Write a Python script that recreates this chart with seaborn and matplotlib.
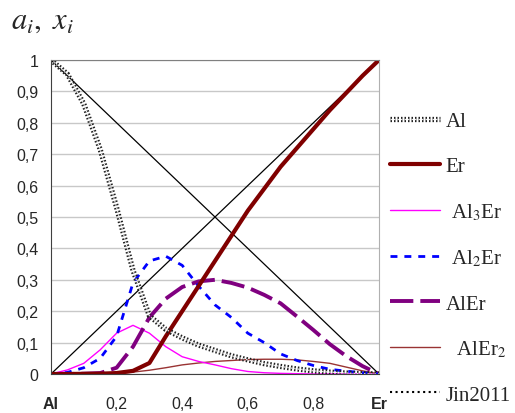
import numpy as np
import pandas as pd
import seaborn as sns
import matplotlib.pyplot as plt
import matplotlib.patheffects as pe
from matplotlib.lines import Line2D

# composition grid, x(Er)
x_er = [0, .05, .1, .15, .2, .25, .3, .35, .4, .45, .5,
        .55, .6, .65, .7, .75, .8, .85, .9, .95, 1.0]

a_al = [1.0, .955, .86, .715, .53, .33, .185, .142, .115, .092, .075,
        .058, .045, .033, .024, .016, .01, .006, .003, .001, 0]
a_er = [0, 0, .0005, .001, .003, .01, .035, .12, .20, .28, .36,
        .44, .52, .59, .66, .72, .78, .84, .895, .95, 1.0]
a_al3er = [0, .013, .034, .077, .13, .155, .13, .087, .055, .04, .029,
           .017, .008, .004, .002, .001, 0, 0, 0, 0, 0]
a_al2er = [0, .005, .02, .05, .12, .29, .36, .375, .346, .28, .22,
           .18, .13, .10, .064, .043, .027, .015, .009, .004, 0]
a_aler = [0, 0, .001, .003, .02, .087, .18, .24, .277, .295, .30,
          .29, .275, .252, .225, .183, .14, .095, .057, .025, 0]
a_aler2 = [0, 0, 0, .001, .002, .006, .012, .02, .029, .035, .04,
           .043, .046, .047, .047, .045, .04, .034, .022, .01, 0]

# mole fractions (straight lines)
x_line = [0, 1]
x_al_frac = [1, 0]
x_er_frac = [0, 1]

xtick_vals = [0, 0.2, 0.4, 0.6, 0.8, 1.0]
xtick_labels = ["Al", "0,2", "0,4", "0,6", "0,8", "Er"]
ytick_vals = [round(v * 0.1, 1) for v in range(11)]
ytick_labels = ["0"] + ["0," + str(i) for i in range(1, 10)] + ["1"]

sns.set_style("white")
plt.rcParams['font.family'] = ['Liberation Sans', 'DejaVu Sans']
plt.rcParams['mathtext.fontset'] = 'stix'

fig = plt.figure(figsize=(5.15, 4.14), dpi=100)
ax = fig.add_axes([51 / 515, 1 - 375 / 414, 328 / 515, 314 / 414])

df = pd.DataFrame({"x": x_er, "Al": a_al, "Er": a_er, "Al3Er": a_al3er,
                   "Al2Er": a_al2er, "AlEr": a_aler, "AlEr2": a_aler2})

sns.lineplot(x=x_line, y=x_al_frac, ax=ax, color="black", lw=0.9)
sns.lineplot(x=x_line, y=x_er_frac, ax=ax, color="black", lw=0.9)

sns.lineplot(data=df, x="x", y="AlEr2", ax=ax, color="#993333", lw=1.0,
             label="  AlEr$_2$")
sns.lineplot(data=df, x="x", y="Al3Er", ax=ax, color="#ff00ff", lw=1.0,
             label=" Al$_3$Er")
sns.lineplot(data=df, x="x", y="AlEr", ax=ax, color="#800080", lw=2.8,
             dashes=(6, 1.8), label="AlEr")
sns.lineplot(data=df, x="x", y="Al2Er", ax=ax, color="#0000ff", lw=2.0,
             dashes=(2.5, 2.5), label=" Al$_2$Er")
sns.lineplot(data=df, x="x", y="Er", ax=ax, color="#800000", lw=3.0,
             label="Er")
sns.lineplot(data=df, x="x", y="Al", ax=ax, color="#e8e8e8", lw=0.9,
             dashes=(1.2, 1.6), label="Al",
             path_effects=[pe.Stroke(linewidth=3.8, foreground="#202020"), pe.Normal()])

ax.set_xlim(0, 1)
ax.set_ylim(0, 1)
ax.set_xlabel("")
ax.set_ylabel("")
ax.set_yticks(ytick_vals)
ax.set_yticklabels(ytick_labels, fontsize=11.5)
ax.set_xticks(xtick_vals)
ax.set_xticklabels(xtick_labels, fontsize=11.5)
for t in ax.get_xticklabels():
    if t.get_text() in ("Al", "Er"):
        t.set_fontweight("bold")
ax.tick_params(axis="x", direction="out", length=5, pad=11, color="#404040")
ax.tick_params(axis="y", direction="out", length=5, pad=4, color="#404040")
ax.yaxis.grid(True, color="#c8c8c8", lw=1)
ax.set_axisbelow(True)
for s in ["left", "bottom"]:
    ax.spines[s].set_color("#404040")
ax.spines["top"].set_color("#808080")
ax.spines["right"].set_color("#b0b0b0")

# legend in original order
h, l = ax.get_legend_handles_labels()
order = ["Al", "Er", " Al$_3$Er", " Al$_2$Er", "AlEr", "  AlEr$_2$"]
hd = dict(zip(l, h))
handles = [hd[k] for k in order] + [Line2D([], [], color="black", lw=1.5, ls=":")]
labels = order + ["Jin2011"]
ax.legend(handles, labels, loc="upper left", bbox_to_anchor=(1.035, 0.835),
          frameon=False, borderaxespad=0, borderpad=0, handlelength=2.4,
          handletextpad=0.25, labelspacing=1.22,
          prop={"family": "Liberation Serif", "size": 15})

fig.text(0.022, 0.93, r"$a_i,\ x_i$", fontsize=22, va="baseline")

fig.savefig("out.png", dpi=100)
